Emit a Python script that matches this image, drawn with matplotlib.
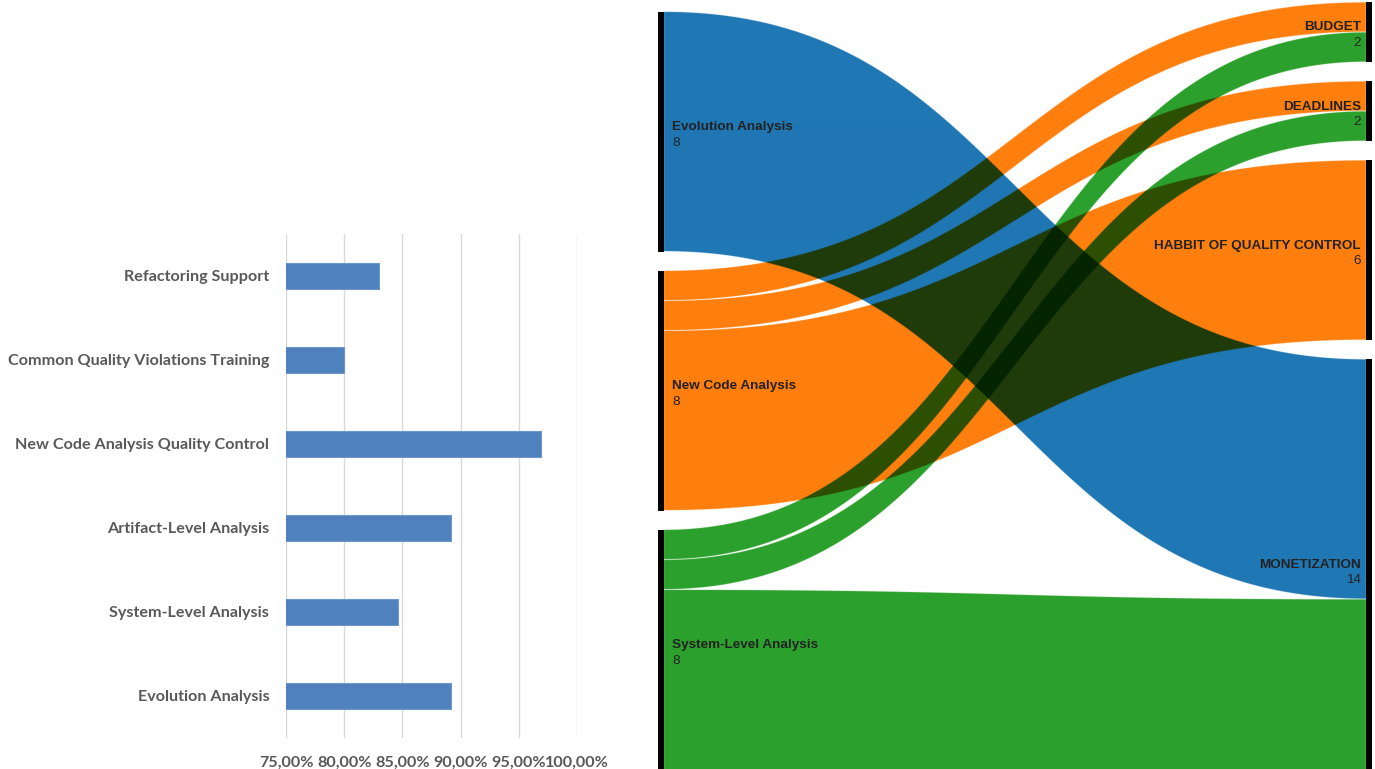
import numpy as np
import matplotlib
matplotlib.use("Agg")
import matplotlib.pyplot as plt
from matplotlib.colors import to_rgb
from matplotlib.ticker import FuncFormatter

# left panel: share of agreement per feature (top to bottom)
features = ["Refactoring Support", "Common Quality Violations Training",
            "New Code Analysis Quality Control", "Artifact-Level Analysis",
            "System-Level Analysis", "Evolution Analysis"]
agreement = [83.0, 80.0, 96.9, 89.2, 84.6, 89.2]
pct_ticks = [75, 80, 85, 90, 95, 100]

# right panel: sankey flows
sources = ["Evolution Analysis", "New Code Analysis", "System-Level Analysis"]
source_colors = ["#1f77b4", "#ff7f0e", "#2ca02c"]
targets = ["BUDGET", "DEADLINES", "HABBIT OF QUALITY CONTROL", "MONETIZATION"]
link_src = [0, 1, 1, 1, 2, 2, 2]
link_tgt = [3, 0, 1, 2, 0, 1, 3]
link_val = [8, 1, 1, 6, 1, 1, 6]

W, H = 1375, 769
fig = plt.figure(figsize=(W / 100, H / 100), dpi=100)

# ---------------- bar chart ----------------
ax = fig.add_axes([286 / W, 1 - 738 / H, (577 - 286) / W, (738 - 234) / H])
ypos = np.arange(len(features))[::-1]
ax.barh(ypos, agreement, height=0.31, color="#4F81BD", edgecolor="#6E97CB", linewidth=0.8, zorder=3)
ax.set_xlim(75, 100)
ax.set_ylim(-0.5, len(features) - 0.5)
ax.set_xticks(pct_ticks)
ax.xaxis.set_major_formatter(FuncFormatter(lambda v, p: f"{v:.2f}%".replace(".", ",")))
ax.set_yticks(ypos)
ax.set_yticklabels(features)
ax.grid(axis="x", color="#d9d9d9", linewidth=1, zorder=0)
for s in ax.spines.values():
    s.set_visible(False)
ax.tick_params(axis="both", length=0, colors="#595959")
ax.tick_params(axis="y", pad=12)
ax.tick_params(axis="x", pad=13)
for lab in ax.get_yticklabels():
    lab.set_fontfamily("Lato")
    lab.set_fontweight("bold")
    lab.set_fontsize(11.6)
for lab in ax.get_xticklabels():
    lab.set_fontfamily("Lato")
    lab.set_fontweight("bold")
    lab.set_fontsize(11.6)

# ---------------- sankey ----------------
PX = 30.0              # pixels per flow unit
gap = 19 / PX
node_w = 6 / 714
src_tot = [sum(v for s, v in zip(link_src, link_val) if s == i) for i in range(len(sources))]
tgt_tot = [sum(v for t, v in zip(link_tgt, link_val) if t == i) for i in range(len(targets))]
col_l = sum(src_tot) + gap * (len(sources) - 1)
col_r = sum(tgt_tot) + gap * (len(targets) - 1)
col_h = max(col_l, col_r)


def stack(tot, colh):
    y = (col_h - colh) / 2
    out = []
    for t in tot:
        out.append(y)
        y += t + gap
    return out


src_y = stack(src_tot, col_l)
tgt_y = stack(tgt_tot, col_r)

n = len(link_val)
ys0, yt0 = [0.0] * n, [0.0] * n
off = list(src_y)
for k in sorted(range(n), key=lambda k: (link_src[k], link_tgt[k])):
    ys0[k] = off[link_src[k]]
    off[link_src[k]] += link_val[k]
off = list(tgt_y)
for k in sorted(range(n), key=lambda k: (link_tgt[k], link_src[k])):
    yt0[k] = off[link_tgt[k]]
    off[link_tgt[k]] += link_val[k]

y_top = -2 / PX
y_bot = y_top + H / PX
axs = fig.add_axes([658 / W, 0, 714 / W, 1])
axs.set_xlim(0, 1)
axs.set_ylim(y_bot, y_top)
axs.axis("off")

x0, x1 = node_w, 1 - node_w
xm = (x0 + x1) / 2
t = np.linspace(0, 1, 600)
bx = (1 - t) ** 3 * x0 + 3 * (1 - t) ** 2 * t * xm + 3 * (1 - t) * t ** 2 * xm + t ** 3 * x1


def bez_y(a, b):
    return ((1 - t) ** 3 + 3 * (1 - t) ** 2 * t) * a + (3 * (1 - t) * t ** 2 + t ** 3) * b


# multiply-blended links rendered on a fine grid
nx, ny = 714 * 2, H * 2
xs = (np.arange(nx) + 0.5) / nx
rh = (y_bot - y_top) / ny
yc = y_top + (np.arange(ny) + 0.5) * rh
Y = yc[:, None]
inside = (xs >= x0) & (xs <= x1)
img = np.ones((ny, nx, 3))
inset = 0.35 / PX
for k in range(n):
    top = np.interp(xs, bx, bez_y(ys0[k], yt0[k])) + inset
    bot = np.interp(xs, bx, bez_y(ys0[k] + link_val[k], yt0[k] + link_val[k])) - inset
    lo = np.maximum(top[None, :], Y - rh / 2)
    hi = np.minimum(bot[None, :], Y + rh / 2)
    cov = np.clip((hi - lo) / rh, 0, 1) * inside[None, :]
    rgb = np.array(to_rgb(source_colors[link_src[k]]))
    img *= 1 - cov[..., None] * (1 - rgb)
axs.imshow(img, extent=(0, 1, y_bot, y_top), aspect="auto", interpolation="antialiased", zorder=1)

# nodes
axs.bar([0] * len(sources), src_tot, bottom=src_y, width=node_w, align="edge", color="black", zorder=2)
axs.bar([1 - node_w] * len(targets), tgt_tot, bottom=tgt_y, width=node_w, align="edge", color="black", zorder=2)

lab_kw = dict(family="Liberation Sans", fontsize=9.7, color="#222222", zorder=3)
for name, y, v in zip(sources, src_y, src_tot):
    c = y + v / 2
    axs.text(14 / 714, c - 0.15, name, ha="left", va="center", fontweight="bold", **lab_kw)
    axs.text(14 / 714, c + 0.38, str(v), ha="left", va="center", **lab_kw)
for name, y, v in zip(targets, tgt_y, tgt_tot):
    c = y + v / 2
    axs.text(1 - 11 / 714, c - 0.15, name, ha="right", va="center", fontweight="bold", **lab_kw)
    axs.text(1 - 11 / 714, c + 0.38, str(v), ha="right", va="center", **lab_kw)

fig.savefig("out.png", dpi=100)
